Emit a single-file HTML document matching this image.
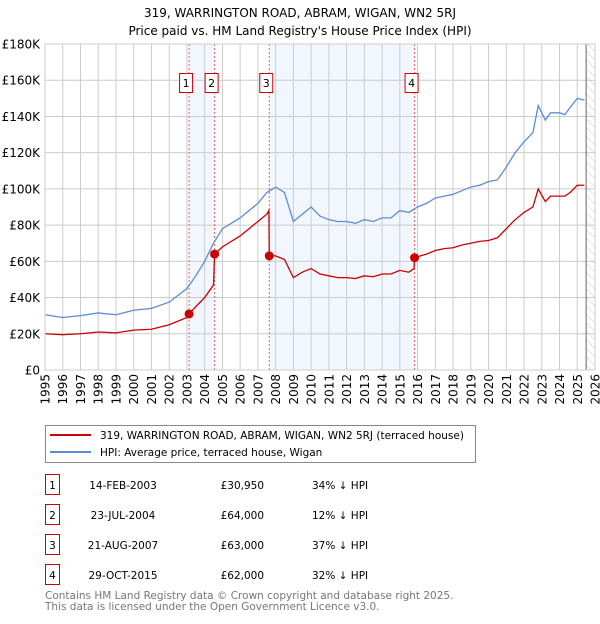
<!DOCTYPE html>
<html><head><meta charset="utf-8"><style>
body{margin:0;background:#fff;font-family:"DejaVu Sans","Liberation Sans",sans-serif;}
svg text{font-family:"DejaVu Sans","Liberation Sans",sans-serif;}
</style></head><body>
<svg id="c" width="600" height="620" xmlns="http://www.w3.org/2000/svg">
<defs><pattern id="hatch" width="6" height="6" patternUnits="userSpaceOnUse" patternTransform="rotate(-45)"><line x1="0" y1="0" x2="0" y2="6" stroke="#ccc" stroke-width="1"/></pattern></defs>
<text x="300" y="17" text-anchor="middle" font-size="12">319, WARRINGTON ROAD, ABRAM, WIGAN, WN2 5RJ</text>
<text x="300" y="35" text-anchor="middle" font-size="12">Price paid vs. HM Land Registry's House Price Index (HPI)</text>
<g id="plot"></g>
<g>
<rect x="45.5" y="425.5" width="430" height="37" fill="#fff" stroke="#888"/>
<line x1="50" y1="435" x2="91" y2="435" stroke="#cc0000" stroke-width="2"/>
<text x="100" y="439" font-size="10.5">319, WARRINGTON ROAD, ABRAM, WIGAN, WN2 5RJ (terraced house)</text>
<line x1="50" y1="452" x2="91" y2="452" stroke="#5b8dd6" stroke-width="2"/>
<text x="100" y="456" font-size="10.5">HPI: Average price, terraced house, Wigan</text>
</g>
<g id="table"></g>
<text x="45" y="599" font-size="10.5" fill="#777">Contains HM Land Registry data © Crown copyright and database right 2025.</text>
<text x="45" y="610" font-size="10.5" fill="#777">This data is licensed under the Open Government Licence v3.0.</text>
</svg>
<script>
const hpiYears=[1995,1996,1997,1998,1999,2000,2001,2002,2003,2003.5,2004,2004.5,2005,2006,2007,2007.5,2008,2008.5,2009,2009.5,2010,2010.5,2011,2011.5,2012,2012.5,2013,2013.5,2014,2014.5,2015,2015.5,2016,2016.5,2017,2017.5,2018,2018.5,2019,2019.5,2020,2020.5,2021,2021.5,2022,2022.5,2022.8,2023.2,2023.5,2024,2024.3,2024.6,2025,2025.4];
const hpiValues=[30.5,29,30,31.5,30.5,33,34,37.5,45,52,60,70,78,84,92,98,101,98,82,86,90,85,83,82,82,81,83,82,84,84,88,87,90,92,95,96,97,99,101,102,104,105,112,120,126,131,146,138,142,142,141,145,150,149];
const priceYears=[1995,1996,1997,1998,1999,2000,2001,2002,2003,2003.12,2003.5,2004,2004.5,2004.56,2005,2006,2007,2007.5,2007.62,2007.64,2008,2008.5,2009,2009.5,2010,2010.5,2011,2011.5,2012,2012.5,2013,2013.5,2014,2014.5,2015,2015.5,2015.8,2015.83,2016,2016.5,2017,2017.5,2018,2018.5,2019,2019.5,2020,2020.5,2021,2021.5,2022,2022.5,2022.8,2023.2,2023.5,2024,2024.3,2024.6,2025,2025.4];
const priceValues=[20,19.5,20,21,20.5,22,22.5,25,29,30.95,35,40,47,64,68,74,82,86,88,63,63,61,51,54,56,53,52,51,51,50.5,52,51.5,53,53,55,54,56,62,62.5,64,66,67,67.5,69,70,71,71.5,73,78,83,87,90,100,93,96,96,96,98,102,102];
const saleLabels=["1","2","3","4"];
const saleDates=[2003.12,2004.56,2007.64,2015.83];
const salePrices=[30.95,64,63,62];
const saleDateText=["14-FEB-2003","23-JUL-2004","21-AUG-2007","29-OCT-2015"];
const salePriceText=["£30,950","£64,000","£63,000","£62,000"];
const saleHpiText=["34% ↓ HPI","12% ↓ HPI","37% ↓ HPI","32% ↓ HPI"];
const yTicks=[0,20,40,60,80,100,120,140,160,180];
const yTickLabels=["£0","£20K","£40K","£60K","£80K","£100K","£120K","£140K","£160K","£180K"];
const xTicks=[1995,1996,1997,1998,1999,2000,2001,2002,2003,2004,2005,2006,2007,2008,2009,2010,2011,2012,2013,2014,2015,2016,2017,2018,2019,2020,2021,2022,2023,2024,2025,2026];
const NS="http://www.w3.org/2000/svg";
const X0=45,X1=595,Y0=370,Y1=44;
const xs=y=>X0+(y-1995)/(2026-1995)*(X1-X0);
const ys=v=>Y0-v/180*(Y0-Y1);
const plot=document.getElementById('plot');
function mk(tag,at,parent){const e=document.createElementNS(NS,tag);for(const k in at)e.setAttribute(k,at[k]);(parent||plot).appendChild(e);return e;}
let e;
e=mk('rect',{x:X0,y:Y1,width:X1-X0,height:Y0-Y1,fill:'#fff'});


e=mk('rect',{x:xs(saleDates[0]),y:Y1,width:xs(saleDates[1])-xs(saleDates[0]),height:Y0-Y1,fill:'#f2f6fe'});


e=mk('rect',{x:xs(saleDates[2]),y:Y1,width:xs(saleDates[3])-xs(saleDates[2]),height:Y0-Y1,fill:'#f2f6fe'});


e=mk('rect',{x:xs(2025.5),y:Y1,width:X1-xs(2025.5),height:Y0-Y1,fill:'url(#hatch)'});


yTicks.forEach((t,i)=>{
 e=mk('line',{x1:X0,x2:X1,y1:ys(t),y2:ys(t),stroke:'#ccc','stroke-width':1});
 
 
 e=mk('text',{x:40,y:ys(t)+4.5,'text-anchor':'end','font-size':12});
 e.textContent=yTickLabels[i];
 
 
});
xTicks.forEach(t=>{
 e=mk('line',{x1:xs(t),x2:xs(t),y1:Y1,y2:Y0,stroke:'#ccc','stroke-width':1});
 
 
 e=mk('text',{x:0,y:0,'text-anchor':'end','font-size':12,transform:`translate(${xs(t)+4.5},374) rotate(-90)`});
 e.textContent=t;
 
 
});
e=mk('line',{x1:xs(2025.5),x2:xs(2025.5),y1:Y1,y2:Y0,stroke:'#666','stroke-width':1});


saleDates.forEach((d,i)=>{
 e=mk('line',{x1:xs(d),x2:xs(d),y1:Y1,y2:Y0,stroke:'#f06060','stroke-width':1,'stroke-dasharray':'2,2'});
 
 
 const cx=xs(d)-3;
 e=mk('rect',{x:cx-6.5,y:73.5,width:13,height:19,fill:'#fff',stroke:'#cc0000'});
 
 
 e=mk('text',{x:cx,y:87,'text-anchor':'middle','font-size':11});
 e.textContent=saleLabels[i];
 
 
});
e=mk('polyline',{points:hpiYears.map((y,i)=>xs(y)+','+ys(hpiValues[i])).join(' '),fill:'none',stroke:'#5b8dd6','stroke-width':1.3});


e=mk('polyline',{points:priceYears.map((y,i)=>xs(y)+','+ys(priceValues[i])).join(' '),fill:'none',stroke:'#cc0000','stroke-width':1.3});


saleDates.forEach((d,i)=>{
 e=mk('circle',{cx:xs(d),cy:ys(salePrices[i]),r:4.5,fill:'#cc0000'});
 
 
});
e=mk('rect',{x:X0,y:Y1,width:X1-X0,height:Y0-Y1,fill:'none',stroke:'#ccc'});


const tb=document.getElementById('table');
saleLabels.forEach((l,i)=>{
 const y=483+i*30;
 e=mk('rect',{x:45.5,y:y-8.5,width:14,height:20,fill:'#fff',stroke:'#cc0000'},tb);
 
 
 e=mk('text',{x:52.5,y:y+6,'text-anchor':'middle','font-size':10.5},tb);
 e.textContent=l;
 
 
 e=mk('text',{x:123,y:y+6,'text-anchor':'middle','font-size':10.5},tb);
 e.textContent=saleDateText[i];
 
 
 e=mk('text',{x:264,y:y+6,'text-anchor':'end','font-size':10.5},tb);
 e.textContent=salePriceText[i];
 
 
 e=mk('text',{x:312,y:y+6,'font-size':10.5},tb);
 e.textContent=saleHpiText[i];
 
 
});
</script>
</body></html>
